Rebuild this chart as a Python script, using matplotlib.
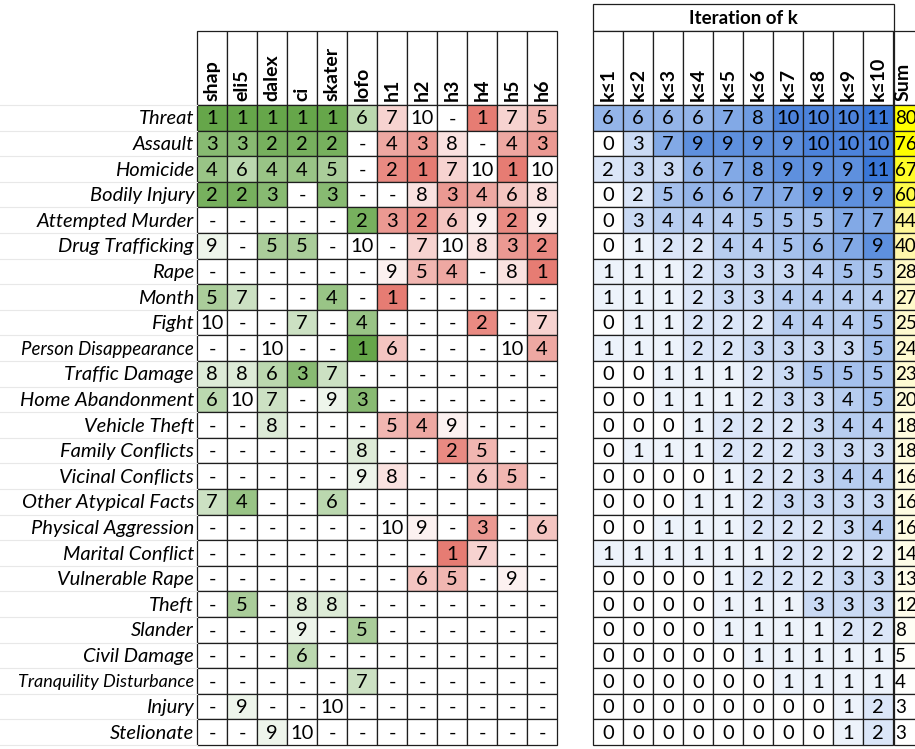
import matplotlib
matplotlib.use('Agg')
import matplotlib.pyplot as plt
from matplotlib.patches import Rectangle
from matplotlib.colors import LinearSegmentedColormap, Normalize

plt.rcParams['font.family'] = ['Lato', 'DejaVu Sans']


##############################
#            DATA            #
##############################

crimes = ['Threat', 'Assault', 'Homicide', 'Bodily Injury', 'Attempted Murder',
          'Drug Trafficking', 'Rape', 'Month', 'Fight', 'Person Disappearance',
          'Traffic Damage', 'Home Abandonment', 'Vehicle Theft', 'Family Conflicts',
          'Vicinal Conflicts', 'Other Atypical Facts', 'Physical Aggression',
          'Marital Conflict', 'Vulnerable Rape', 'Theft', 'Slander', 'Civil Damage',
          'Tranquility Disturbance', 'Injury', 'Stelionate']

method_cols = ['shap', 'eli5', 'dalex', 'ci', 'skater', 'lofo']
human_cols = ['h1', 'h2', 'h3', 'h4', 'h5', 'h6']
k_cols = ['k≤1', 'k≤2', 'k≤3', 'k≤4', 'k≤5', 'k≤6', 'k≤7', 'k≤8', 'k≤9', 'k≤10']
sum_col = 'Sum'

N = None  # '-' in the table
method_ranks = [
    [1, 1, 1, 1, 1, 6],
    [3, 3, 2, 2, 2, N],
    [4, 6, 4, 4, 5, N],
    [2, 2, 3, N, 3, N],
    [N, N, N, N, N, 2],
    [9, N, 5, 5, N, 10],
    [N, N, N, N, N, N],
    [5, 7, N, N, 4, N],
    [10, N, N, 7, N, 4],
    [N, N, 10, N, N, 1],
    [8, 8, 6, 3, 7, N],
    [6, 10, 7, N, 9, 3],
    [N, N, 8, N, N, N],
    [N, N, N, N, N, 8],
    [N, N, N, N, N, 9],
    [7, 4, N, N, 6, N],
    [N, N, N, N, N, N],
    [N, N, N, N, N, N],
    [N, N, N, N, N, N],
    [N, 5, N, 8, 8, N],
    [N, N, N, 9, N, 5],
    [N, N, N, 6, N, N],
    [N, N, N, N, N, 7],
    [N, 9, N, N, 10, N],
    [N, N, 9, 10, N, N],
]

human_ranks = [
    [7, 10, N, 1, 7, 5],
    [4, 3, 8, N, 4, 3],
    [2, 1, 7, 10, 1, 10],
    [N, 8, 3, 4, 6, 8],
    [3, 2, 6, 9, 2, 9],
    [N, 7, 10, 8, 3, 2],
    [9, 5, 4, N, 8, 1],
    [1, N, N, N, N, N],
    [N, N, N, 2, N, 7],
    [6, N, N, N, 10, 4],
    [N, N, N, N, N, N],
    [N, N, N, N, N, N],
    [5, 4, 9, N, N, N],
    [N, N, 2, 5, N, N],
    [8, N, N, 6, 5, N],
    [N, N, N, N, N, N],
    [10, 9, N, 3, N, 6],
    [N, N, 1, 7, N, N],
    [N, 6, 5, N, 9, N],
    [N, N, N, N, N, N],
    [N, N, N, N, N, N],
    [N, N, N, N, N, N],
    [N, N, N, N, N, N],
    [N, N, N, N, N, N],
    [N, N, N, N, N, N],
]

k_counts = [
    [6, 6, 6, 6, 7, 8, 10, 10, 10, 11],
    [0, 3, 7, 9, 9, 9, 9, 10, 10, 10],
    [2, 3, 3, 6, 7, 8, 9, 9, 9, 11],
    [0, 2, 5, 6, 6, 7, 7, 9, 9, 9],
    [0, 3, 4, 4, 4, 5, 5, 5, 7, 7],
    [0, 1, 2, 2, 4, 4, 5, 6, 7, 9],
    [1, 1, 1, 2, 3, 3, 3, 4, 5, 5],
    [1, 1, 1, 2, 3, 3, 4, 4, 4, 4],
    [0, 1, 1, 2, 2, 2, 4, 4, 4, 5],
    [1, 1, 1, 2, 2, 3, 3, 3, 3, 5],
    [0, 0, 1, 1, 1, 2, 3, 5, 5, 5],
    [0, 0, 1, 1, 1, 2, 3, 3, 4, 5],
    [0, 0, 0, 1, 2, 2, 2, 3, 4, 4],
    [0, 1, 1, 1, 2, 2, 2, 3, 3, 3],
    [0, 0, 0, 0, 1, 2, 2, 3, 4, 4],
    [0, 0, 0, 1, 1, 2, 3, 3, 3, 3],
    [0, 0, 1, 1, 1, 2, 2, 2, 3, 4],
    [1, 1, 1, 1, 1, 1, 2, 2, 2, 2],
    [0, 0, 0, 0, 1, 2, 2, 2, 3, 3],
    [0, 0, 0, 0, 1, 1, 1, 3, 3, 3],
    [0, 0, 0, 0, 1, 1, 1, 1, 2, 2],
    [0, 0, 0, 0, 0, 1, 1, 1, 1, 1],
    [0, 0, 0, 0, 0, 0, 1, 1, 1, 1],
    [0, 0, 0, 0, 0, 0, 0, 0, 1, 2],
    [0, 0, 0, 0, 0, 0, 0, 0, 1, 2],
]

k_sums = [80, 76, 67, 60, 44, 40, 28, 27, 25, 24, 23, 20, 18, 18, 16, 16, 16,
          14, 13, 12, 8, 5, 4, 3, 3]


##############################
#           LAYOUT           #
##############################

W, H = 915, 749
CW = 30            # cell width (px)
RH = 25.6          # row height (px)
Y_TOP = 105        # top of first data row
HEAD_TOP = 31      # top of column headers
TITLE_TOP = 4      # top of "Iteration of k" box
X_METHOD = 197
X_HUMAN = X_METHOD + CW * len(method_cols)
X_K = 593
X_SUM = X_K + CW * len(k_cols) + 1
EDGE = '#1e1e1e'
LW = 0.9
NUM_FS = 14.5
HEAD_FS = 14
LABEL_FS = 14.5
# the two long labels are set smaller in the sheet
small_label_fs = {'Person Disappearance': 13.4, 'Tranquility Disturbance': 13.0}

green = LinearSegmentedColormap.from_list('g', ['#66a64a', '#ffffff'])
red = LinearSegmentedColormap.from_list('r', ['#e67c73', '#ffffff'])
blue = LinearSegmentedColormap.from_list('b', ['#ffffff', '#3a77d7'])
yellow = LinearSegmentedColormap.from_list('y', ['#ffffff', '#fff7b0', '#ffff00'])


def draw_block(ax, x0, values, cmap, norm, width=CW, align='center', fs=NUM_FS):
    for i, row in enumerate(values):
        for j, v in enumerate(row):
            x = x0 + j * width
            y = Y_TOP + i * RH
            fc = 'white' if v is None else cmap(norm(v))
            ax.add_patch(Rectangle((x, y), width, RH, facecolor=fc,
                                   edgecolor=EDGE, lw=LW))
            txt = '-' if v is None else str(v)
            tx = x + width / 2 if align == 'center' else x + 1
            ax.text(tx, y + RH / 2 + 1, txt, ha=align, va='center',
                    fontsize=fs, color='black')


def draw_header(ax, x0, labels, width=CW, tx_off=0):
    for j, lab in enumerate(labels):
        x = x0 + j * width
        ax.add_patch(Rectangle((x, HEAD_TOP), width, Y_TOP - HEAD_TOP,
                               facecolor='white', edgecolor=EDGE, lw=LW))
        ax.text(x + width / 2 + tx_off, Y_TOP - 4, lab, rotation=90,
                ha='center', va='bottom', fontsize=HEAD_FS, fontweight='bold')


##############################
#           FIGURE           #
##############################

fig = plt.figure(figsize=(W / 100, H / 100), dpi=100)
ax = fig.add_axes([0, 0, 1, 1])
ax.set_xlim(0, W)
ax.set_ylim(H, 0)
ax.axis('off')

# faint sheet gridlines behind the row labels
for i in range(len(crimes) + 1):
    ax.plot([0, X_METHOD], [Y_TOP + i * RH] * 2, color='#e8e8e8', lw=0.8)

# row labels
for i, name in enumerate(crimes):
    fs = small_label_fs.get(name, LABEL_FS)
    ax.text(X_METHOD - 3, Y_TOP + i * RH + RH / 2 + 1, name, ha='right',
            va='center', fontsize=fs, style='italic')

# left table
draw_header(ax, X_METHOD, method_cols + human_cols)
draw_block(ax, X_METHOD, method_ranks, green, Normalize(1, 10))
draw_block(ax, X_HUMAN, human_ranks, red, Normalize(1, 10))

# right table
ax.add_patch(Rectangle((X_K, TITLE_TOP), X_SUM - X_K, HEAD_TOP - TITLE_TOP,
                       facecolor='white', edgecolor=EDGE, lw=LW))
ax.text((X_K + X_SUM) / 2, (TITLE_TOP + HEAD_TOP) / 2 + 1, 'Iteration of k',
        ha='center', va='center', fontsize=13.5, fontweight='bold')
draw_header(ax, X_K, k_cols)
draw_block(ax, X_K, k_counts, blue, Normalize(0, 11))

draw_header(ax, X_SUM, [sum_col], width=40, tx_off=-11)
draw_block(ax, X_SUM, [[s] for s in k_sums], yellow, Normalize(3, 75),
           width=40, align='left', fs=13.5)

fig.savefig('out.png', dpi=100)
